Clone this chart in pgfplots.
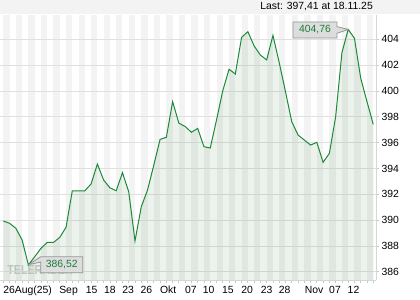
\documentclass[border=0pt]{standalone}
\usepackage{pgfplots}
\usepackage{pgfplotstable}
\pgfplotsset{compat=1.18}
\usepackage{fontspec}
\setmainfont{Liberation Sans}
\definecolor{lg}{RGB}{28,138,58}
\definecolor{fillc}{RGB}{40,120,40}
\definecolor{stripec}{RGB}{243,243,243}
\definecolor{gridc}{RGB}{224,224,224}
\definecolor{hdr}{RGB}{243,243,243}
\definecolor{axisc}{RGB}{215,215,215}
\definecolor{tickc}{RGB}{200,200,200}
\definecolor{boxfill}{RGB}{221,221,221}
\definecolor{boxdraw}{RGB}{150,150,150}
\definecolor{boxtext}{RGB}{25,125,55}
\pgfplotstableread{
i v
0 389.93
1 389.75
2 389.36
3 388.45
4 386.52
5 387.16
6 387.81
7 388.27
8 388.27
9 388.66
10 389.44
11 392.27
12 392.27
13 392.27
14 392.80
15 394.34
16 393.10
17 392.50
18 392.27
19 393.67
20 392.19
21 388.38
22 391.03
23 392.33
24 394.26
25 396.25
26 396.41
27 399.17
28 397.50
29 397.25
30 396.80
31 397.10
32 395.68
33 395.58
34 397.75
35 400.02
36 401.68
37 401.31
38 404.15
39 404.59
40 403.48
41 402.78
42 402.40
43 404.30
44 402.20
45 399.94
46 397.62
47 396.59
48 396.20
49 395.81
50 396.02
51 394.47
52 395.17
53 398.00
54 402.96
55 404.76
56 404.08
57 400.98
58 399.17
59 397.41
}\datatable
\begin{document}
\begin{tikzpicture}[x=1bp,y=1bp]
\useasboundingbox (0,0) rectangle (420,300);
\fill[hdr] (0,286) rectangle (420,300);
\node[anchor=east, inner sep=0pt, font=\fontsize{10.4bp}{12bp}\selectfont] at (373,293) {Last: 397,41 at 18.11.25};
\foreach \k in {0,...,29} {
  \fill[stripec] ({3.335+12.54*\k},20) rectangle ({3.335+12.54*\k+6.27},285);
}
\node[font=\fontsize{13bp}{14bp}\selectfont\bfseries, text=gray!40, xscale=0.82, inner sep=0pt] at (40,29.5) {TELERADER};
\begin{axis}[
  at={(0.2bp,20bp)}, anchor=south west, scale only axis,
  width=376.2bp, height=265bp,
  xmin=-0.5, xmax=59.5, ymin=385.36, ymax=405.88,
  axis x line*=bottom, axis y line*=right,
  axis line style={axisc, line width=0.8bp},
  tick align=outside,
  major tick length=3bp,
  tick style={tickc, line width=0.8bp},
  xtick={0,...,59}, xticklabels={},
  extra x ticks={3.86,10.4,14.07,17.0,19.9,22.8,26.3,29.9,32.76,35.8,38.9,42.0,44.85,49.55,52.9,55.85},
  extra x tick labels={26Aug(25),Sep,15,18,23,26,Okt,07,10,15,20,23,28,Nov,07,12},
  extra x tick style={major tick length=0pt, xticklabel style={anchor=base, yshift=-13bp}},
  ytick={386,388,...,404},
  yticklabels={386,388,390,392,394,396,398,400,402,404},
  yticklabel style={anchor=west, inner sep=0pt, xshift=2bp},
  tick label style={font=\fontsize{10.4bp}{12bp}\selectfont, text=black},
  ymajorgrids, major grid style={gridc, line width=0.8bp},
  clip=false,
]
\addplot[draw=none, fill=fillc, fill opacity=0.09] table[x=i, y=v] {\datatable} \closedcycle;
\addplot[lg, line width=1bp] table[x=i, y=v] {\datatable};
\draw[boxdraw, fill=boxfill, line width=0.8bp]
  (axis cs:46.2,404.10) -- (axis cs:53.2,404.10) -- (axis cs:53.2,404.46) -- (axis cs:55,404.76)
  -- (axis cs:53.2,404.98) -- (axis cs:53.2,405.34) -- (axis cs:46.2,405.34) -- cycle;
\node[text=boxtext, font=\fontsize{10.4bp}{12bp}\selectfont, inner sep=0pt] at (axis cs:49.7,404.72) {404,76};
\draw[boxdraw, fill=boxfill, line width=0.8bp]
  (axis cs:5.96,385.92) -- (axis cs:12.66,385.92) -- (axis cs:12.66,387.16) -- (axis cs:5.96,387.16)
  -- (axis cs:4.05,386.55) -- (axis cs:5.96,386.75) -- cycle;
\node[text=boxtext, font=\fontsize{10.4bp}{12bp}\selectfont, inner sep=0pt] at (axis cs:9.31,386.54) {386,52};
\end{axis}
\end{tikzpicture}
\end{document}
